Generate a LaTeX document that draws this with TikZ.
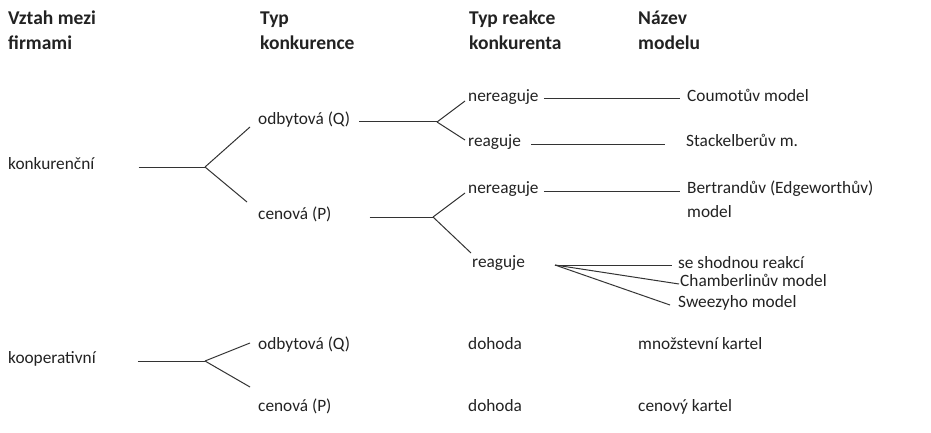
\documentclass[tikz,border=0pt]{standalone}
\usepackage{fontspec}
\setmainfont{Carlito}
\definecolor{txt}{HTML}{222222}
\definecolor{ln}{HTML}{333333}
\begin{document}
\begin{tikzpicture}[x=1pt,y=-1pt,
  lbl/.style={anchor=mid west,inner sep=0pt,text=txt,font=\fontsize{17.3}{21}\selectfont},
  hdr/.style={lbl,font=\bfseries\fontsize{19.5}{23}\selectfont},
  conn/.style={draw=ln,line width=1pt}]
\fill[white] (0,0) rectangle (931,433);
\useasboundingbox (0,0) rectangle (931,433);
% headers
\node[hdr] (h1a) at (8,22) {Vztah mezi};
\node[hdr] (h1b) at (8,47) {firmami};
\node[hdr] (h2a) at (260,22) {Typ};
\node[hdr] (h2b) at (260,47) {konkurence};
\node[hdr] (h3a) at (469,22) {Typ reakce};
\node[hdr] (h3b) at (469,47) {konkurenta};
\node[hdr] (h4a) at (638,22) {Název};
\node[hdr] (h4b) at (638,47) {modelu};
% level 1
\node[lbl] (kon) at (8,167) {konkurenční};
\node[lbl] (koo) at (8,361) {kooperativní};
% level 2
\node[lbl] (oq1) at (258,122) {odbytová (Q)};
\node[lbl] (cp1) at (258,217) {cenová (P)};
\node[lbl] (oq2) at (258,347) {odbytová (Q)};
\node[lbl] (cp2) at (258,409) {cenová (P)};
% level 3
\node[lbl] (n1) at (468,99) {nereaguje};
\node[lbl] (r1) at (468,144) {reaguje};
\node[lbl] (n2) at (468,191) {nereaguje};
\node[lbl] (r2) at (472,265) {reaguje};
\node[lbl] (d1) at (468,347) {dohoda};
\node[lbl] (d2) at (468,409) {dohoda};
% level 4
\node[lbl] (m1) at (687,99) {Coumotův model};
\node[lbl] (m2) at (686,144) {Stackelberův m.};
\node[lbl] (m3a) at (687,191) {Bertrandův (Edgeworthův)};
\node[lbl] (m3b) at (687,215) {model};
\node[lbl] (m4) at (678,266) {se shodnou reakcí};
\node[lbl] (m5) at (680,284) {Chamberlinův model};
\node[lbl] (m6) at (678,305) {Sweezyho model};
\node[lbl] (k1) at (638,347) {množstevní kartel};
\node[lbl] (k2) at (638,409) {cenový kartel};
% fork points
\coordinate (fk) at (205,167);
\coordinate (fo) at (437,122);
\coordinate (fc) at (433,217);
\coordinate (fr) at (555,265);
\coordinate (fq) at (205,361);
% connectors
\draw[conn] ([xshift=44pt]kon.mid east) -- (fk);
\draw[conn] (fk) -- ([shift={(-8,5)}]oq1.mid west);
\draw[conn] (fk) -- ([shift={(-11,-15)}]cp1.mid west);
\draw[conn] ([xshift=9pt]oq1.mid east) -- (fo);
\draw[conn] (fo) -- ([shift={(-3,2)}]n1.mid west);
\draw[conn] (fo) -- ([shift={(-3,-4)}]r1.mid west);
\draw[conn] ([xshift=5pt]n1.mid east) -- ([xshift=-7pt]m1.mid west);
\draw[conn] ([xshift=10pt]r1.mid east) -- ([xshift=-21pt]m2.mid west);
\draw[conn] ([xshift=38pt]cp1.mid east) -- (fc);
\draw[conn] (fc) -- ([shift={(-3,2)}]n2.mid west);
\draw[conn] (fc) -- ([shift={(-1,-12)}]r2.mid west);
\draw[conn] ([xshift=5pt]n2.mid east) -- ([xshift=-7pt]m3a.mid west);
\draw[conn] (fr) -- ([shift={(-6,-1)}]m4.mid west);
\draw[conn] (fr) -- ([xshift=-1pt]m5.mid west);
\draw[conn] (fr) -- ([xshift=-8pt]m6.mid west);
\draw[conn] ([xshift=42pt]koo.mid east) -- (fq);
\draw[conn] (fq) -- ([shift={(-8,-4)}]oq2.mid west);
\draw[conn] (fq) -- ([shift={(-8,-22)}]cp2.mid west);
\end{tikzpicture}
\end{document}
